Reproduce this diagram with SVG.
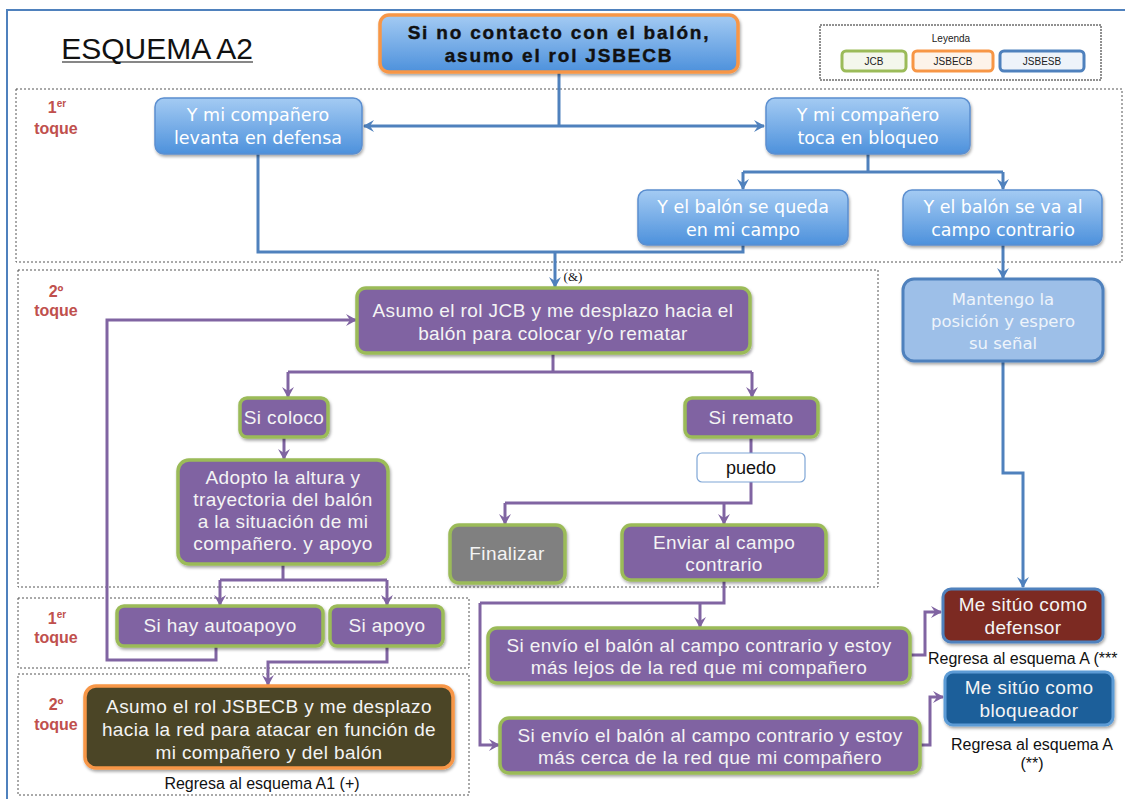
<svg xmlns="http://www.w3.org/2000/svg" width="1125" height="799" viewBox="0 0 1125 799">
<style>
text{font-family:"Liberation Sans",Arial,sans-serif;text-anchor:middle}
.region{fill:none;stroke:#555;stroke-width:1;stroke-dasharray:2 2}
.lbl{fill:#c0504d;font-weight:bold;font-size:16px}
.blue{fill:url(#gBlue);stroke:#5b8fd0;stroke-width:1.5;filter:url(#sh)}
.bt{font-family:"DejaVu Sans",Verdana,sans-serif;font-size:17.5px;fill:#fff}
.mt{font-family:"DejaVu Sans",Verdana,sans-serif;font-size:16.5px;fill:#eef4fb}
.pur{fill:#8064a2;stroke:#9bbb59;stroke-width:3.5;filter:url(#sh)}
.pt{font-size:19px;letter-spacing:0.4px;fill:#f4f4f4}
.cb{fill:none;stroke:#4f81bd;stroke-width:3;marker-end:url(#ab)}
.cbn{fill:none;stroke:#4f81bd;stroke-width:3}
.cp{fill:none;stroke:#8064a2;stroke-width:3;marker-end:url(#ap)}
.cpn{fill:none;stroke:#8064a2;stroke-width:3}
.note{font-size:16px;fill:#111}
</style>
<defs>
<linearGradient id="gBlue" x1="0" y1="0" x2="0" y2="1">
<stop offset="0" stop-color="#a4cbf3"/>
<stop offset="1" stop-color="#4d91dc"/>
</linearGradient>
<filter id="sh" x="-10%" y="-10%" width="120%" height="130%">
<feDropShadow dx="1" dy="2" stdDeviation="1.5" flood-color="#000" flood-opacity="0.35"/>
</filter>
<marker id="ab" markerUnits="userSpaceOnUse" markerWidth="14" markerHeight="14" refX="11" refY="7" orient="auto">
<path d="M1,1 L12,7 L1,13 L5,7 z" fill="#4f81bd"/>
</marker>
<marker id="ap" markerUnits="userSpaceOnUse" markerWidth="14" markerHeight="14" refX="11" refY="7" orient="auto">
<path d="M1,1 L12,7 L1,13 L5,7 z" fill="#8064a2"/>
</marker>
</defs>
<rect width="1125" height="799" fill="#fff"/>
<rect x="7" y="10" width="1130" height="800" fill="none" stroke="#4f81bd" stroke-width="2"/>

<g id="title">
<text x="157" y="59" style="font-size:30px" fill="#111">ESQUEMA A2</text>
<line x1="62" y1="62" x2="253" y2="62" stroke="#111" stroke-width="1.2"/>
</g>

<g id="regions">
<rect class="region" x="16" y="89" width="1106" height="173"/>
<rect class="region" x="18" y="270" width="860" height="317"/>
<rect class="region" x="18" y="598" width="451" height="70"/>
<rect class="region" x="18" y="674" width="451" height="121"/>
<text class="lbl" x="57" y="113">1<tspan dy="-6" font-size="10">er</tspan></text>
<text class="lbl" x="56" y="134">toque</text>
<text class="lbl" x="56" y="297">2º</text>
<text class="lbl" x="56" y="316">toque</text>
<text class="lbl" x="57" y="624">1<tspan dy="-6" font-size="10">er</tspan></text>
<text class="lbl" x="56" y="643">toque</text>
<text class="lbl" x="56" y="710">2º</text>
<text class="lbl" x="56" y="730">toque</text>
</g>

<g id="legend">
<rect x="820" y="25" width="281" height="55" fill="none" stroke="#222" stroke-width="1" stroke-dasharray="2 1"/>
<text x="951" y="42" style="font-size:10px" fill="#222">Leyenda</text>
<rect x="842" y="51" width="64" height="20" rx="4" fill="#f4f7ec" stroke="#9bbb59" stroke-width="3"/>
<text x="874" y="65" style="font-size:10px" fill="#222">JCB</text>
<rect x="913" y="51" width="80" height="20" rx="4" fill="#fdf3ea" stroke="#f79646" stroke-width="3"/>
<text x="953" y="65" style="font-size:10px" fill="#222">JSBECB</text>
<rect x="1000" y="51" width="84" height="20" rx="4" fill="#eef3fa" stroke="#4f81bd" stroke-width="3"/>
<text x="1042" y="65" style="font-size:10px" fill="#222">JSBESB</text>
</g>

<g id="connectors">
<path class="cbn" d="M559,72 V126"/>
<path class="cb" d="M559,126 H364"/>
<path class="cb" d="M559,126 H764"/>
<path class="cbn" d="M258,154 V252 H743 V245"/>
<path class="cb" d="M555,252 V287"/>
<path class="cbn" d="M868,154 V172 M743,172 H1003"/>
<path class="cb" d="M743,172 V189"/>
<path class="cb" d="M1003,172 V189"/>
<path class="cb" d="M1003,245 V278"/>
<path class="cb" d="M1003,361 V473 H1023 V587"/>
<path class="cpn" d="M553,353 V372 M288,372 H752"/>
<path class="cp" d="M288,372 V397"/>
<path class="cp" d="M752,372 V397"/>
<path class="cp" d="M284,437 V459"/>
<path class="cpn" d="M751,437 V453 M751,482 V503 H505"/>
<path class="cp" d="M505,503 V524"/>
<path class="cp" d="M724,503 V524"/>
<path class="cpn" d="M283,564 V580 M220,580 H387"/>
<path class="cp" d="M220,580 V605"/>
<path class="cp" d="M387,580 V605"/>
<path class="cp" d="M216,646 V660 H107 V320 H356"/>
<path class="cp" d="M387,646 V662 H268 V685"/>
<path class="cpn" d="M724,580 V603 H480"/>
<path class="cp" d="M700,603 V627"/>
<path class="cp" d="M480,603 V745 H499"/>
<path class="cp" d="M910,655 H925 V612 H941"/>
<path class="cp" d="M920,745 H930 V697 H943"/>
<text x="573" y="281" style="font-family:'Liberation Serif',serif;font-size:13px" fill="#111">(&amp;)</text>
</g>

<g id="n-top">
<rect x="380" y="15" width="358" height="57" rx="9" fill="url(#gBlue)" stroke="#f79646" stroke-width="3.5" filter="url(#sh)"/>
<text x="559" y="39" style="font-size:19px;font-weight:bold;letter-spacing:1.8px" fill="#111" stroke="#111" stroke-width="0.4">Si no contacto con el balón,</text>
<text x="559" y="62" style="font-size:19px;font-weight:bold;letter-spacing:1.8px" fill="#111" stroke="#111" stroke-width="0.4">asumo el rol JSBECB</text>
</g>

<g id="n-levanta">
<rect class="blue" x="155" y="98" width="207" height="56" rx="9"/>
<text class="bt" x="258" y="121">Y mi compañero</text>
<text class="bt" x="258" y="144">levanta en defensa</text>
</g>
<g id="n-toca">
<rect class="blue" x="766" y="98" width="204" height="56" rx="9"/>
<text class="bt" x="868" y="121">Y mi compañero</text>
<text class="bt" x="868" y="144">toca en bloqueo</text>
</g>
<g id="n-queda">
<rect class="blue" x="638" y="190" width="210" height="55" rx="9"/>
<text class="bt" x="743" y="213">Y el balón se queda</text>
<text class="bt" x="743" y="236">en mi campo</text>
</g>
<g id="n-va">
<rect class="blue" x="903" y="190" width="199" height="55" rx="9"/>
<text class="bt" x="1003" y="213">Y el balón se va al</text>
<text class="bt" x="1003" y="236">campo contrario</text>
</g>
<g id="n-mantengo">
<rect x="903" y="279" width="200" height="82" rx="11" fill="#9dbfe8" stroke="#4f81bd" stroke-width="3" filter="url(#sh)"/>
<text class="mt" x="1003" y="305">Mantengo la</text>
<text class="mt" x="1003" y="327">posición y espero</text>
<text class="mt" x="1003" y="349">su señal</text>
</g>

<g id="n-jcb">
<rect class="pur" x="357" y="288" width="393" height="65" rx="9"/>
<text class="pt" x="553" y="317">Asumo el rol JCB y me desplazo hacia el</text>
<text class="pt" x="553" y="340">balón para colocar y/o rematar</text>
</g>
<g id="n-coloco">
<rect class="pur" x="240" y="398" width="88" height="39" rx="7"/>
<text class="pt" x="284" y="424">Si coloco</text>
</g>
<g id="n-remato">
<rect class="pur" x="685" y="398" width="133" height="39" rx="7"/>
<text class="pt" x="751" y="424">Si remato</text>
</g>
<g id="n-puedo">
<rect x="697" y="453" width="108" height="29" rx="5" fill="#fff" stroke="#7fa6d6" stroke-width="1.2"/>
<text x="751" y="474" style="font-size:18px" fill="#111">puedo</text>
</g>
<g id="n-adopto">
<rect class="pur" x="178" y="460" width="210" height="104" rx="11"/>
<text class="pt" x="283" y="484">Adopto la altura y</text>
<text class="pt" x="283" y="506">trayectoria del balón</text>
<text class="pt" x="283" y="528">a la situación de mi</text>
<text class="pt" x="283" y="550">compañero. y apoyo</text>
</g>
<g id="n-finalizar">
<rect x="450" y="525" width="115" height="58" rx="9" fill="#808080" stroke="#9bbb59" stroke-width="3.5" filter="url(#sh)"/>
<text class="pt" x="507" y="560">Finalizar</text>
</g>
<g id="n-enviar">
<rect class="pur" x="622" y="525" width="204" height="55" rx="9"/>
<text class="pt" x="724" y="549">Enviar al campo</text>
<text class="pt" x="724" y="571">contrario</text>
</g>
<g id="n-autoapoyo">
<rect class="pur" x="117" y="606" width="206" height="40" rx="7"/>
<text class="pt" x="220" y="632">Si hay autoapoyo</text>
</g>
<g id="n-apoyo">
<rect class="pur" x="330" y="606" width="113" height="40" rx="7"/>
<text class="pt" x="387" y="632">Si apoyo</text>
</g>
<g id="n-jsbecb">
<rect x="85" y="686" width="368" height="82" rx="11" fill="#4b4428" stroke="#f79646" stroke-width="3.5" filter="url(#sh)"/>
<text class="pt" x="269" y="713" fill="#f0ebd8">Asumo el rol JSBECB y me desplazo</text>
<text class="pt" x="269" y="736" fill="#f0ebd8">hacia la red para atacar en función de</text>
<text class="pt" x="269" y="759" fill="#f0ebd8">mi compañero y del balón</text>
<text class="note" x="262" y="789">Regresa al esquema A1 (+)</text>
</g>
<g id="n-lejos">
<rect class="pur" x="488" y="628" width="422" height="55" rx="9"/>
<text class="pt" x="699" y="652">Si envío el balón al campo contrario y estoy</text>
<text class="pt" x="699" y="674">más lejos de la red que mi compañero</text>
</g>
<g id="n-cerca">
<rect class="pur" x="500" y="718" width="420" height="55" rx="9"/>
<text class="pt" x="710" y="742">Si envío el balón al campo contrario y estoy</text>
<text class="pt" x="710" y="764">más cerca de la red que mi compañero</text>
</g>
<g id="n-defensor">
<rect x="943" y="589" width="160" height="53" rx="8" fill="#7b2a22" stroke="#4f81bd" stroke-width="3" filter="url(#sh)"/>
<text class="pt" x="1023" y="611">Me sitúo como</text>
<text class="pt" x="1023" y="634">defensor</text>
<text class="note" x="928" y="664" style="text-anchor:start">Regresa al esquema A (***</text>
</g>
<g id="n-bloqueador">
<rect x="945" y="672" width="168" height="53" rx="8" fill="#1f5f9a" stroke="#5b9bd5" stroke-width="3" filter="url(#sh)"/>
<text class="pt" x="1029" y="694">Me sitúo como</text>
<text class="pt" x="1029" y="717">bloqueador</text>
<text class="note" x="1032" y="750">Regresa al esquema A</text>
<text class="note" x="1032" y="769">(**)</text>
</g>
</svg>
